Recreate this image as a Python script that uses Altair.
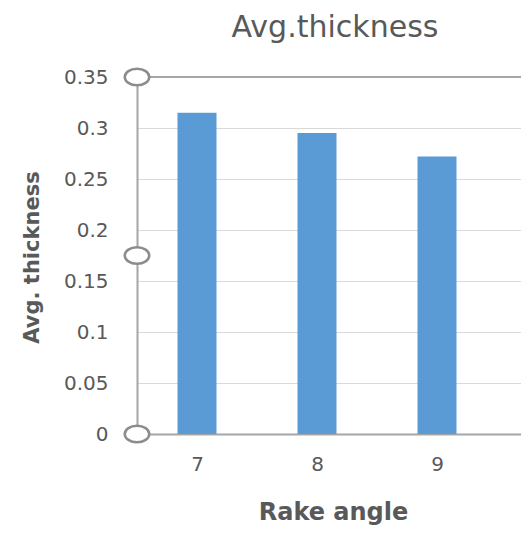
import altair as alt
import pandas as pd

rake_angle = [7, 8, 9]
avg_thickness = [0.315, 0.295, 0.272]
y_ticks = [0, 0.05, 0.1, 0.15, 0.2, 0.25, 0.3, 0.35]
handle_values = [0.35, 0.175, 0.0]
top_line = [0.35]
chart_title = ["Avg.thickness"]

df = pd.DataFrame({"angle": rake_angle, "thickness": avg_thickness})
handles = pd.DataFrame({"thickness": handle_values})
top = pd.DataFrame({"thickness": top_line})
title_df = pd.DataFrame({"t": chart_title})

W, H = 384, 357
grey = "#595959"
x_scale = alt.Scale(domain=[6.5, 6.5 + W / 120], nice=False, zero=False, padding=0)
y_scale = alt.Scale(domain=[0, 0.35], nice=False)

bars = alt.Chart(df).mark_bar(color="#5b9bd5", size=39).encode(
    x=alt.X("angle:Q", scale=x_scale,
            axis=alt.Axis(values=rake_angle, title="Rake angle", grid=False, ticks=False,
                          domainColor="#a6a6a6", domainWidth=2,
                          labelFont="DejaVu Sans", labelFontSize=20, labelColor=grey,
                          labelPadding=20,
                          titleFont="DejaVu Sans", titleFontSize=24, titleFontWeight="bold",
                          titleColor=grey, titleX=196, titleY=85, titleBaseline="alphabetic")),
    y=alt.Y("thickness:Q", scale=y_scale,
            axis=alt.Axis(values=y_ticks, title="Avg. thickness", grid=True,
                          gridColor="#d9d9d9", gridWidth=1, ticks=False,
                          domainColor="#a6a6a6", domainWidth=2,
                          labelExpr="format(datum.value, '.2~f')",
                          labelFont="DejaVu Sans", labelFontSize=20, labelColor=grey,
                          labelPadding=29,
                          titleFont="DejaVu Sans", titleFontSize=21, titleFontWeight="bold",
                          titleColor=grey, titleAngle=270, titleX=-99, titleY=180,
                          titleBaseline="alphabetic", titleAlign="center")),
)

top_rule = alt.Chart(top).mark_rule(color="#a6a6a6", strokeWidth=2).encode(
    x=alt.value(0), x2=alt.value(W),
    y=alt.Y("thickness:Q", scale=y_scale),
)

ellipse = "M -1 0 A 1 0.68 0 1 1 1 0 A 1 0.68 0 1 1 -1 0 Z"
handle_marks = alt.Chart(handles).mark_point(
    shape=ellipse, size=600, fill="white", fillOpacity=1, stroke="#8c8c8c",
    strokeWidth=2.5, opacity=1
).encode(
    x=alt.value(0),
    y=alt.Y("thickness:Q", scale=y_scale),
)

title_mark = alt.Chart(title_df).mark_text(
    font="DejaVu Sans", fontSize=30, color=grey, baseline="alphabetic", align="center"
).encode(
    x=alt.value(198), y=alt.value(-40), text="t:N"
)

chart = alt.layer(bars, top_rule, handle_marks, title_mark).properties(
    width=W, height=H,
    autosize=alt.AutoSizeParams(type="none"),
    padding={"left": 129, "top": 69, "right": 0, "bottom": 91},
).configure_view(stroke=None).configure(background="white")

chart.save("out.html", embed_options={"renderer": "svg", "actions": False})
